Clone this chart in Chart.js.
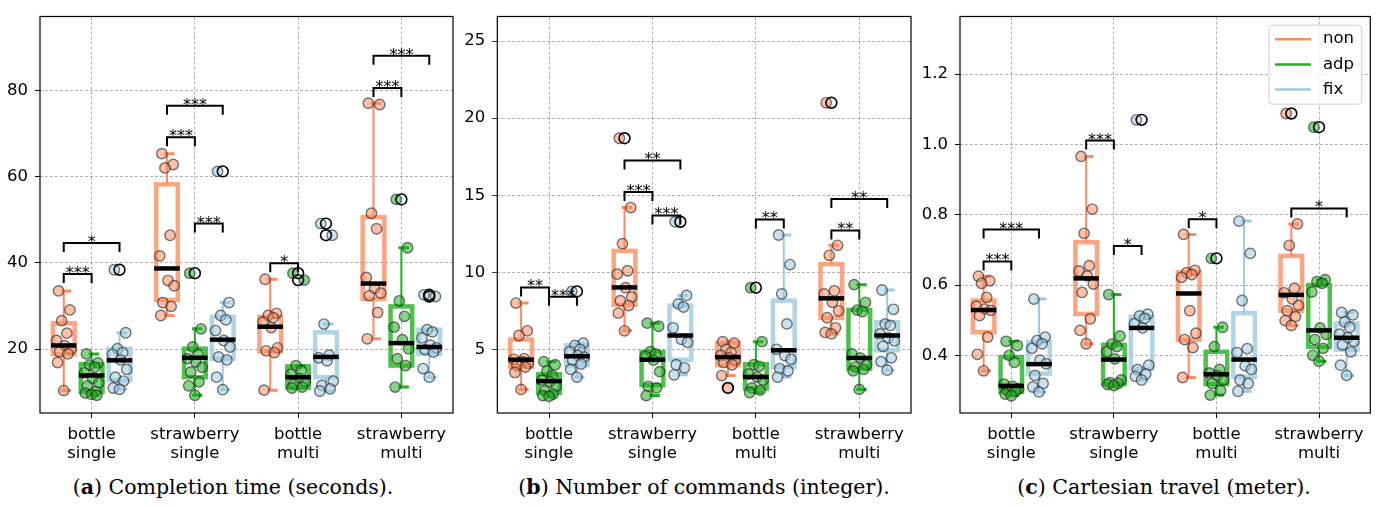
<!DOCTYPE html>
<html>
<head>
<meta charset="utf-8">
<script src="https://cdn.jsdelivr.net/npm/chart.js@4.4.1/dist/chart.umd.min.js"></script>
<style>
  body { margin: 0; background: #fff; }
  #wrap { position: relative; width: 1378px; height: 507px; }
  canvas { position: absolute; top: 0; }
  .cap { position: absolute; top: 474px; width: 460px; text-align: center;
         font-family: "DejaVu Serif", serif; font-size: 20.5px; line-height: 26px; color: #000; }
</style>
</head>
<body>
<div id="wrap">
  <canvas id="c1" width="460" height="470" style="left:0px"></canvas>
  <canvas id="c2" width="458" height="470" style="left:460px"></canvas>
  <canvas id="c3" width="460" height="470" style="left:918px"></canvas>
  <div class="cap" style="left:3px">(<b>a</b>) Completion time (seconds).</div>
  <div class="cap" style="left:474px">(<b>b</b>) Number of commands (integer).</div>
  <div class="cap" style="left:934px">(<b>c</b>) Cartesian travel (meter).</div>
</div>
<script>
// categories and methods
var categories = [['bottle', 'single'], ['strawberry', 'single'], ['bottle', 'multi'], ['strawberry', 'multi']];
var methods = ['non', 'adp', 'fix'];

// (a) completion time, one list per category
var timeNon = [
    [33.5, 29.1, 26.6, 23.7, 22.0, 20.8, 20.0, 19.4, 18.9, 16.9, 10.4],
    [65.3, 62.8, 62.0, 46.4, 41.6, 35.9, 34.7, 30.8, 29.9, 27.8],
    [36.2, 28.3, 27.8, 27.3, 26.3, 25.0, 20.3, 19.6, 19.2, 10.5],
    [77.0, 76.7, 51.5, 47.9, 36.6, 34.1, 33.0, 32.4, 28.5, 22.4]
];
var timeAdp = [
    [18.9, 16.8, 16.3, 15.8, 14.5, 13.2, 12.2, 11.5, 10.2, 9.8, 9.5, 9.3],
    [37.6, 24.7, 20.5, 18.8, 17.8, 17.0, 15.8, 14.7, 12.4, 11.5, 9.3],
    [37.6, 36.0, 16.2, 15.0, 14.2, 13.2, 12.5, 11.8, 11.2, 11.0],
    [54.7, 43.5, 31.2, 27.6, 25.1, 22.2, 20.1, 17.8, 16.2, 11.2]
];
var timeFix = [
    [38.4, 23.8, 20.1, 19.2, 18.8, 17.5, 15.3, 13.5, 12.6, 11.0, 10.7],
    [61.2, 30.8, 27.8, 26.8, 24.3, 22.0, 20.5, 18.2, 17.5, 13.5, 10.6],
    [49.1, 46.4, 25.8, 18.6, 18.0, 17.3, 12.6, 11.6, 10.8, 10.3],
    [32.6, 32.2, 24.5, 24.0, 22.6, 20.9, 20.3, 19.9, 19.3, 15.5, 13.5]
];
// box stats: [whisker low, q1, median, q3, whisker high]
var timeNonBox = [[10.4, 18.8, 20.85, 26.0, 33.5], [27.8, 31.4, 38.7, 58.2, 65.3], [10.5, 19.5, 25.2, 27.5, 36.2], [22.4, 31.6, 35.2, 50.6, 77.0]];
var timeAdpBox = [[9.3, 10.1, 13.9, 16.5, 18.9], [9.3, 13.5, 18.0, 20.1, 24.7], [11.0, 11.1, 13.5, 16.0, 16.2], [11.2, 16.2, 21.4, 29.9, 43.5]];
var timeFixBox = [[10.7, 12.8, 17.4, 20.1, 23.8], [10.6, 17.8, 22.2, 27.5, 30.8], [10.3, 13.5, 18.2, 23.9, 25.8], [13.5, 18.9, 20.5, 24.5, 24.5]];
// brackets: [category, from method, to method, height, label]
var timeBrackets = [[0, 0, 1, 37.4, '***'], [0, 0, 2, 44.6, '*'], [1, 0, 1, 69.1, '***'], [1, 0, 2, 76.4, '***'],
    [1, 1, 2, 49.1, '***'], [2, 0, 1, 39.9, '*'], [3, 0, 1, 80.5, '***'], [3, 0, 2, 88.0, '***']];

// (b) number of commands
var cmdNon = [
    [8.0, 6.2, 5.9, 4.4, 4.35, 4.2, 4.1, 3.95, 3.85, 3.5, 2.4],
    [18.7, 14.2, 11.86, 10.1, 9.88, 9.0, 8.4, 8.16, 7.84, 7.35, 6.2],
    [5.5, 5.4, 5.0, 4.8, 4.6, 4.45, 4.3, 4.15, 4.0, 3.3, 2.5],
    [21.0, 11.75, 11.1, 8.8, 8.6, 8.05, 7.5, 7.05, 6.4, 6.1, 6.0]
];
var cmdAdp = [
    [4.2, 4.0, 3.6, 3.3, 3.0, 2.9, 2.6, 2.3, 2.1, 2.0, 1.95],
    [6.7, 6.5, 4.85, 4.7, 4.55, 4.3, 3.55, 2.6, 2.5, 2.0],
    [9.0, 5.5, 4.0, 3.9, 3.4, 3.2, 3.0, 2.5, 2.35, 2.2],
    [9.2, 8.05, 7.55, 7.45, 4.7, 4.45, 4.0, 3.85, 3.7, 3.6, 2.4]
];
var cmdFix = [
    [8.76, 5.4, 5.25, 5.0, 4.85, 4.6, 4.5, 4.3, 4.05, 3.7, 3.2],
    [13.28, 8.5, 7.95, 7.75, 6.4, 5.65, 5.45, 4.0, 3.8, 3.35],
    [12.42, 10.5, 8.6, 6.65, 5.0, 4.6, 4.35, 3.75, 3.6, 3.2],
    [8.85, 7.6, 6.65, 6.55, 6.0, 5.75, 5.55, 5.2, 4.45, 4.2, 3.65]
];
var cmdNonBox = [[2.4, 3.86, 4.33, 5.63, 8.0], [6.2, 7.9, 9.02, 11.39, 14.2], [3.3, 3.97, 4.5, 5.41, 5.5], [6.0, 7.04, 8.31, 10.53, 11.75]];
var cmdAdpBox = [[1.95, 2.18, 2.94, 3.39, 4.2], [2.0, 2.68, 4.33, 4.83, 6.7], [2.2, 2.46, 3.21, 4.03, 5.5], [2.4, 3.75, 4.44, 7.56, 9.2]];
var cmdFixBox = [[3.2, 3.97, 4.55, 5.26, 5.4], [3.35, 4.33, 5.9, 7.84, 8.5], [3.2, 3.86, 4.94, 8.16, 12.42], [3.65, 4.94, 5.9, 6.76, 8.85]];
var cmdBrackets = [[0, 0, 1, 9.02, '**'], [0, 1, 2, 8.42, '***'], [1, 0, 1, 15.21, '***'], [1, 0, 2, 17.26, '**'],
    [1, 1, 2, 13.69, '***'], [2, 1, 2, 13.43, '**'], [3, 0, 1, 12.72, '**'], [3, 0, 2, 14.76, '**']];

// (c) cartesian travel
var travNon = [
    [0.625, 0.612, 0.605, 0.565, 0.54, 0.532, 0.528, 0.513, 0.452, 0.403, 0.356],
    [0.966, 0.816, 0.747, 0.655, 0.64, 0.626, 0.603, 0.579, 0.504, 0.471, 0.433],
    [0.744, 0.642, 0.635, 0.63, 0.622, 0.527, 0.463, 0.445, 0.422, 0.337],
    [1.088, 0.774, 0.713, 0.591, 0.578, 0.56, 0.542, 0.527, 0.51, 0.499, 0.485]
];
var travAdp = [
    [0.44, 0.428, 0.40, 0.38, 0.318, 0.312, 0.305, 0.30, 0.298, 0.29, 0.285],
    [0.573, 0.455, 0.432, 0.425, 0.41, 0.39, 0.33, 0.322, 0.32, 0.317, 0.314],
    [0.676, 0.48, 0.425, 0.36, 0.35, 0.342, 0.33, 0.32, 0.30, 0.287],
    [1.049, 0.615, 0.61, 0.605, 0.58, 0.478, 0.46, 0.445, 0.42, 0.40, 0.383]
];
var travFix = [
    [0.56, 0.452, 0.442, 0.433, 0.42, 0.386, 0.376, 0.343, 0.32, 0.31, 0.296],
    [1.07, 0.517, 0.512, 0.505, 0.49, 0.478, 0.372, 0.36, 0.347, 0.34, 0.33],
    [0.782, 0.69, 0.556, 0.419, 0.408, 0.37, 0.36, 0.33, 0.32, 0.298],
    [0.522, 0.515, 0.495, 0.48, 0.46, 0.45, 0.44, 0.43, 0.41, 0.372, 0.343]
];
var travNonBox = [[0.356, 0.466, 0.529, 0.556, 0.625], [0.433, 0.518, 0.619, 0.722, 0.966], [0.337, 0.444, 0.576, 0.636, 0.744], [0.485, 0.527, 0.572, 0.683, 0.774]];
var travAdpBox = [[0.285, 0.296, 0.313, 0.395, 0.44], [0.314, 0.318, 0.388, 0.43, 0.573], [0.287, 0.318, 0.346, 0.41, 0.48], [0.383, 0.424, 0.471, 0.60, 0.615]];
var travFixBox = [[0.296, 0.348, 0.375, 0.438, 0.56], [0.33, 0.362, 0.478, 0.51, 0.517], [0.298, 0.339, 0.388, 0.52, 0.782], [0.343, 0.416, 0.45, 0.491, 0.522]];
var travBrackets = [[0, 0, 1, 0.667, '***'], [0, 0, 2, 0.758, '***'], [1, 0, 1, 1.011, '***'], [1, 1, 2, 0.711, '*'],
    [2, 0, 1, 0.787, '*'], [3, 0, 2, 0.818, '*']];

// tick labels
var timeTicks = [20, 40, 60, 80];
var cmdTicks = [5, 10, 15, 20, 25];
var travTicks = [0.4, 0.6, 0.8, 1.0, 1.2];

// styling
var colors = ['#fc8d62', '#22b022', '#9ecae1'];
var offsets = [-0.27, 0, 0.27];
var jitter = [-0.05, 0.06, -0.02, 0.03, -0.07, 0.01, 0.07, -0.04, 0.04, -0.06, 0.0, 0.05];
var tickFont = { family: 'DejaVu Sans', size: 16.5, lineHeight: 1.15 };

function rgba(hex, a) {
    var n = parseInt(hex.slice(1), 16);
    return 'rgba(' + (n >> 16) + ',' + ((n >> 8) & 255) + ',' + (n & 255) + ',' + a + ')';
}

var boxPlugin = {
    id: 'boxes',
    beforeDatasetsDraw: function(chart, args, opts) {
        var ctx = chart.ctx, x = chart.scales.x, y = chart.scales.y;
        var half = x.getPixelForValue(0.105) - x.getPixelForValue(0);
        ctx.save();
        opts.boxes.forEach(function(list, m) {
            list.forEach(function(b, c) {
                var cx = x.getPixelForValue(c + offsets[m]);
                ctx.strokeStyle = colors[m];
                ctx.lineWidth = 2;
                ctx.beginPath();
                ctx.moveTo(cx, y.getPixelForValue(b[3]));
                ctx.lineTo(cx, y.getPixelForValue(b[4]));
                ctx.moveTo(cx, y.getPixelForValue(b[1]));
                ctx.lineTo(cx, y.getPixelForValue(b[0]));
                ctx.stroke();
                ctx.lineWidth = 3;
                ctx.beginPath();
                ctx.moveTo(cx - 3, y.getPixelForValue(b[4]));
                ctx.lineTo(cx + 7.5, y.getPixelForValue(b[4]));
                ctx.moveTo(cx - 3, y.getPixelForValue(b[0]));
                ctx.lineTo(cx + 7.5, y.getPixelForValue(b[0]));
                ctx.stroke();
                ctx.strokeStyle = rgba(colors[m], 0.8);
                ctx.lineWidth = 4.5;
                var top = y.getPixelForValue(b[3]), bot = y.getPixelForValue(b[1]);
                ctx.strokeRect(cx - half, top, half * 2, bot - top);
            });
        });
        ctx.restore();
    },
    afterDatasetsDraw: function(chart, args, opts) {
        var ctx = chart.ctx, x = chart.scales.x, y = chart.scales.y, a = chart.chartArea;
        var half = x.getPixelForValue(0.124) - x.getPixelForValue(0);
        ctx.save();
        // medians
        ctx.strokeStyle = '#000';
        ctx.lineWidth = 4.5;
        opts.boxes.forEach(function(list, m) {
            list.forEach(function(b, c) {
                var cx = x.getPixelForValue(c + offsets[m]);
                var my = y.getPixelForValue(b[2]);
                ctx.beginPath();
                ctx.moveTo(cx - half, my);
                ctx.lineTo(cx + half, my);
                ctx.stroke();
            });
        });
        // significance brackets
        ctx.lineWidth = 2;
        ctx.fillStyle = '#000';
        ctx.font = '16px "DejaVu Sans"';
        ctx.textAlign = 'center';
        ctx.textBaseline = 'alphabetic';
        opts.brackets.forEach(function(br) {
            var x1 = x.getPixelForValue(br[0] + offsets[br[1]]);
            var x2 = x.getPixelForValue(br[0] + offsets[br[2]]);
            var by = y.getPixelForValue(br[3]);
            ctx.beginPath();
            ctx.moveTo(x1, by + 9);
            ctx.lineTo(x1, by);
            ctx.lineTo(x2, by);
            ctx.lineTo(x2, by + 9);
            ctx.stroke();
            ctx.fillText(br[4], (x1 + x2) / 2, by + 4);
        });
        // frame
        ctx.lineWidth = 1.2;
        ctx.strokeRect(a.left, a.top, a.right - a.left, a.bottom - a.top);
        // legend
        if (opts.legend) {
            var lx = a.right - 101.3, ly = a.top + 8.7, lw = 92.7, lh = 79;
            ctx.fillStyle = 'rgba(255,255,255,0.8)';
            ctx.strokeStyle = '#d0d0d0';
            ctx.lineWidth = 1;
            ctx.beginPath();
            ctx.roundRect(lx, ly, lw, lh, 3);
            ctx.fill();
            ctx.stroke();
            ctx.font = '16.5px "DejaVu Sans"';
            ctx.textAlign = 'left';
            ctx.textBaseline = 'middle';
            methods.forEach(function(name, m) {
                var ey = ly + 14 + m * 25.2;
                ctx.strokeStyle = colors[m];
                ctx.lineWidth = 2.5;
                ctx.beginPath();
                ctx.moveTo(lx + 6, ey);
                ctx.lineTo(lx + 42, ey);
                ctx.stroke();
                ctx.fillStyle = '#000';
                ctx.fillText(name, lx + 54, ey);
            });
        }
        ctx.restore();
    }
};

function makePanel(id, series, boxes, brackets, yMin, yMax, yTicks, yWidth, rightPad, decimals, legend) {
    var datasets = [];
    var fliers = [];
    series.forEach(function(list, m) {
        var pts = [];
        list.forEach(function(vals, c) {
            var b = boxes[m][c];
            vals.forEach(function(v, i) {
                pts.push({ x: c + offsets[m] + jitter[i % jitter.length], y: v });
                if (v > b[4] || v < b[0]) fliers.push({ x: c + offsets[m], y: v });
            });
        });
        datasets.push({
            label: methods[m],
            data: pts,
            pointRadius: 5.2,
            pointHoverRadius: 5.2,
            pointBorderWidth: 1.4,
            pointBorderColor: 'rgba(30,30,30,0.6)',
            pointBackgroundColor: rgba(colors[m], 0.55)
        });
    });
    datasets.unshift({
        label: 'fliers',
        data: fliers,
        pointRadius: 5.4,
        pointHoverRadius: 5.4,
        pointBorderWidth: 1.6,
        pointBorderColor: '#000',
        pointBackgroundColor: 'rgba(0,0,0,0)'
    });

    var grid = {
        color: 'rgba(0,0,0,0.38)',
        lineWidth: 0.8,
        tickColor: '#000',
        tickLength: 5,
        tickWidth: 1,
        tickBorderDash: [1, 0]
    };

    return new Chart(document.getElementById(id), {
        type: 'scatter',
        data: { datasets: datasets },
        options: {
            responsive: false,
            animation: false,
            layout: { padding: { top: 14, right: rightPad, left: 0, bottom: 0 } },
            plugins: {
                legend: { display: false },
                tooltip: { enabled: false },
                boxes: { boxes: boxes, brackets: brackets, legend: legend }
            },
            scales: {
                x: {
                    type: 'linear', min: -0.5, max: 3.5,
                    afterBuildTicks: function(s) { s.ticks = [0, 1, 2, 3].map(function(v) { return { value: v }; }); },
                    afterFit: function(s) { s.height = 57; },
                    ticks: {
                        callback: function(v) { return categories[v]; },
                        font: tickFont, color: '#000', padding: 7, maxRotation: 0, autoSkip: false
                    },
                    grid: grid,
                    border: { display: false, dash: [3, 2] }
                },
                y: {
                    min: yMin, max: yMax,
                    afterBuildTicks: function(s) { s.ticks = yTicks.map(function(v) { return { value: v }; }); },
                    afterFit: function(s) { s.width = yWidth; },
                    ticks: {
                        callback: function(v) { return decimals ? v.toFixed(decimals) : String(v); },
                        font: tickFont, color: '#000', padding: 7
                    },
                    grid: grid,
                    border: { display: false, dash: [3, 2] }
                }
            }
        },
        plugins: [boxPlugin]
    });
}

makePanel('c1', [timeNon, timeAdp, timeFix], [timeNonBox, timeAdpBox, timeFixBox], timeBrackets, 5.2, 97.1, timeTicks, 40, 4, 0, false);
makePanel('c2', [cmdNon, cmdAdp, cmdFix], [cmdNonBox, cmdAdpBox, cmdFixBox], cmdBrackets, 0.87, 26.6, cmdTicks, 37.3, 5.3, 0, false);
makePanel('c3', [travNon, travAdp, travFix], [travNonBox, travAdpBox, travFixBox], travBrackets, 0.236, 1.364, travTicks, 42, 7.7, 1, true);
</script>
</body>
</html>
